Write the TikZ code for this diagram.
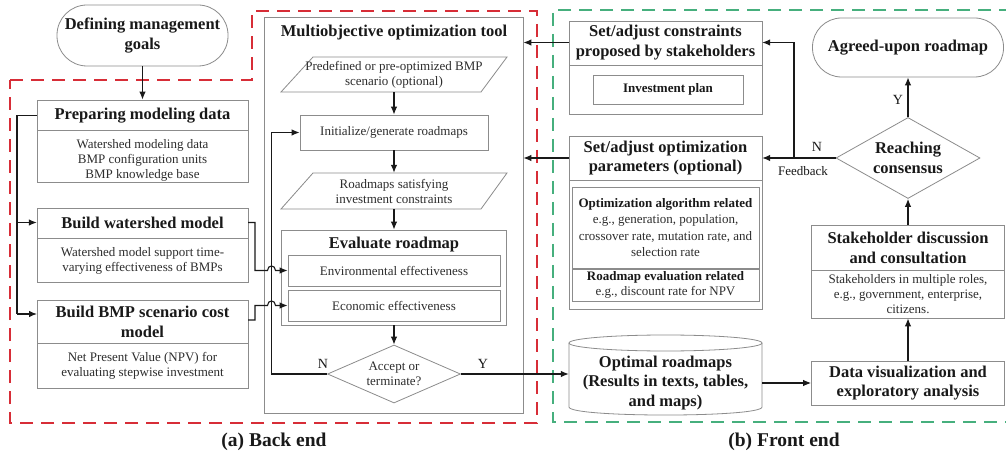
\documentclass[tikz,border=0pt]{standalone}
\usepackage{fontspec}
\setmainfont{Liberation Serif}
\usetikzlibrary{arrows.meta,shapes.geometric}
\definecolor{boxgray}{RGB}{140,140,140}
\definecolor{dred}{RGB}{215,45,55}
\definecolor{dgreen}{RGB}{70,175,125}
\definecolor{ink}{RGB}{25,25,25}
\definecolor{bodyink}{RGB}{45,45,45}
\tikzset{
  bx/.style={draw=boxgray, line width=0.8pt, rectangle, inner sep=0pt},
  sepline/.style={draw=boxgray, line width=0.8pt},
  body/.style={font=\fontsize{13}{15}\selectfont, align=center, inner sep=0pt, text=bodyink},
  hdr/.style={font=\fontsize{16.5}{19.5}\selectfont\bfseries, align=center, inner sep=0pt, text=ink},
  ihdr/.style={font=\fontsize{13}{15}\selectfont\bfseries, align=center, inner sep=0pt, text=ink},
  lbl/.style={font=\fontsize{14}{16}\selectfont, inner sep=0pt, text=ink},
  captext/.style={font=\fontsize{19.5}{22}\selectfont\bfseries, inner sep=0pt, text=ink},
  arr/.style={-{Latex[length=8pt,width=6.5pt]}, line width=1.1pt, draw=ink},
  ln/.style={line width=1.1pt, draw=ink},
  reddash/.style={draw=dred, line width=1.5pt, dash pattern=on 13pt off 8pt},
  greendash/.style={draw=dgreen, line width=1.5pt, dash pattern=on 13pt off 8pt},
}
\begin{document}
\begin{tikzpicture}[x=1pt,y=-1pt]
\useasboundingbox (0,0) rectangle (1006,454);
\fill[white] (0,0) rectangle (1006,454);

% dashed regions
\draw[reddash] (10,80) -- (252,80) -- (252,11) -- (537,11) -- (537,423) -- (10,423) -- cycle;
\draw[greendash] (1012,10) -- (553,10) -- (553,422) -- (1012,422);

% ---------- left column ----------
\node[bx, hdr, rounded corners=30pt, minimum width=171pt, minimum height=61pt] (goals) at (142.5,35.5) {Defining management\\goals};

\node[bx, minimum width=211pt, minimum height=82pt] (prep) at (142.5,141) {};
\draw[sepline] (37,130) -- (248,130);
\node[hdr, minimum width=211pt] (prephdr) at (142.5,115.5) {Preparing modeling data};
\node[body] (prepbody) at (142.5,160) {Watershed modeling data\\BMP configuration units\\BMP knowledge base};

\node[bx, minimum width=211pt, minimum height=74pt] (ws) at (142.5,245) {};
\draw[sepline] (37,238) -- (248,238);
\node[hdr, minimum width=211pt] (wshdr) at (142.5,222.5) {Build watershed model};
\node[body] (wsbody) at (142.5,260.5) {Watershed model support time-\\varying effectiveness of BMPs};

\node[bx, minimum width=211pt, minimum height=88pt] (cost) at (142.5,344) {};
\draw[sepline] (37,343) -- (248,343);
\node[hdr, minimum width=211pt] (costhdr) at (142.5,322) {Build BMP scenario cost\\model};
\node[body] (costbody) at (142.5,365.5) {Net Present Value (NPV) for\\evaluating stepwise investment};

\coordinate (fd) at (17,115.5);
\coordinate (costin) at (37,314);
\coordinate (costout) at (248,320);

\draw[arr] (goals) -- (prep);
\draw[ln] (prephdr.west) -| (fd |- costin);
\draw[arr] (fd |- wshdr.west) -- (wshdr.west);
\draw[arr] (fd |- costin) -- (costin);

% ---------- middle column ----------
\node[bx, minimum width=259pt, minimum height=396pt] (multi) at (393.5,215) {};
\node[hdr] (multit) at (394,33) {Multiobjective optimization tool};

\draw[bx] (313,57) -- (507,57) -- (481,92) -- (281,92) -- cycle;
\node[body, minimum width=170pt, minimum height=35pt] (pre) at (394,74.5) {Predefined or pre-optimized BMP\\scenario (optional)};

\node[bx, body, minimum width=188pt, minimum height=35pt] (init) at (394,132.5) {Initialize/generate roadmaps};

\draw[bx] (313,173) -- (507,173) -- (481,209) -- (281,209) -- cycle;
\node[body, minimum width=170pt, minimum height=36pt] (sat) at (394,191) {Roadmaps satisfying\\investment constraints};

\node[bx, minimum width=225pt, minimum height=95pt] (eval) at (394,277.5) {};
\node[hdr] (evalt) at (394,244.5) {Evaluate roadmap};
\node[bx, body, minimum width=212pt, minimum height=31pt] (env) at (394,270.5) {Environmental effectiveness};
\node[bx, body, minimum width=212pt, minimum height=31pt] (eco) at (394,305.5) {Economic effectiveness};

\node[diamond, draw=boxgray, line width=0.8pt, body, aspect=2.3, minimum width=133pt, minimum height=58pt] (acc) at (394,374) {Accept or\\terminate?};

\draw[arr] (pre) -- (init);
\draw[arr] (init) -- (sat);
\draw[arr] (sat) -- (eval);
\draw[arr] (eval) -- (acc);
\draw[arr] (acc.west) -- ++(-56,0) |- (init.west);
\node[lbl] (nlabA) at (323,364) {N};
\node[lbl] (ylabA) at (483,364) {Y};

\draw[arr] (wshdr.east) -- (255,222.5) -- (255,270.5) -- (267.5,270.5)
  .. controls (267.5,264.5) and (275.5,264.5) .. (275.5,270.5) -- (env.west);
\draw[arr] (costout) -- (255,320) -- (255,305.5) -- (267.5,305.5)
  .. controls (267.5,299.5) and (275.5,299.5) .. (275.5,305.5) -- (eco.west);

% ---------- right column ----------
\node[bx, minimum width=193pt, minimum height=93pt] (cons) at (665.5,67.5) {};
\draw[sepline] (569,65) -- (762,65);
\node[hdr, minimum width=193pt] (conshdr) at (665.5,42.5) {Set/adjust constraints\\proposed by stakeholders};
\node[bx, ihdr, minimum width=150pt, minimum height=29pt] (invest) at (668,89.5) {Investment plan};

\node[bx, minimum width=193pt, minimum height=173pt] (par) at (665.5,222.5) {};
\draw[sepline] (569,180) -- (762,180);
\node[hdr, minimum width=193pt] (parhdr) at (665.5,158) {Set/adjust optimization\\parameters (optional)};
\node[bx, minimum width=187pt, minimum height=81pt] (alg) at (665.5,227.5) {};
\node[body, font=\fontsize{13}{16.3}\selectfont] (algt) at (665.5,227.5) {\textbf{\color{ink}Optimization algorithm related}\\e.g., generation, population,\\crossover rate, mutation rate, and\\selection rate};
\node[bx, body, minimum width=187pt, minimum height=32pt] (revt) at (665.5,285) {\textbf{\color{ink}Roadmap evaluation related}\\e.g., discount rate for NPV};

\draw[arr] (conshdr.west) -- (conshdr.west -| multi.east);
\draw[arr] (parhdr.west) -- (parhdr.west -| multi.east);

% cylinder
\draw[bx] (665.5,343) ellipse [x radius=96.5, y radius=8];
\draw[bx] (569,343) -- (569,407) .. controls (569,417.7) and (762,417.7) .. (762,407) -- (762,343);
\node[hdr, minimum width=193pt] (opt) at (665.5,383) {Optimal roadmaps\\(Results in texts, tables,\\and maps)};

\draw[arr] (acc.east) -- (acc.east -| opt.west);

% far right
\node[bx, hdr, rounded corners=29pt, minimum width=191pt, minimum height=59pt] (agreed) at (908,47.5) {Agreed-upon roadmap};
\node[diamond, draw=boxgray, line width=0.8pt, hdr, aspect=1.78, minimum width=144pt, minimum height=81pt] (reach) at (908,158) {Reaching\\consensus};

\node[bx, minimum width=193pt, minimum height=93pt] (stake) at (908,271.5) {};
\draw[sepline] (811.5,270) -- (1004.5,270);
\node[hdr] (stakehdr) at (908,248) {Stakeholder discussion\\and consultation};
\node[body] (stakebody) at (908,294.5) {Stakeholders in multiple roles,\\e.g., government, enterprise,\\citizens.};

\node[bx, hdr, minimum width=193pt, minimum height=44pt] (dv) at (908,383) {Data visualization and\\exploratory analysis};

\draw[arr] (opt.east) -- (dv.west);
\draw[arr] (dv.north) -- (stake.south);
\draw[arr] (stake.north) -- (reach.south);
\draw[arr] (reach.north) -- (agreed.south);
\node[lbl] (ylabB) at (898,100) {Y};

\coordinate (fb) at (794,158);
\draw[arr] (reach.west) -- (parhdr.east);
\draw[arr] (fb) |- (conshdr.east);
\node[lbl] (nlabB) at (817,147) {N};
\node[body, text=ink] (fbl) at (803,171) {Feedback};

% captions
\node[captext] (capA) at (274,442) {(a) Back end};
\node[captext] (capB) at (784,442) {(b) Front end};
\end{tikzpicture}
\end{document}
